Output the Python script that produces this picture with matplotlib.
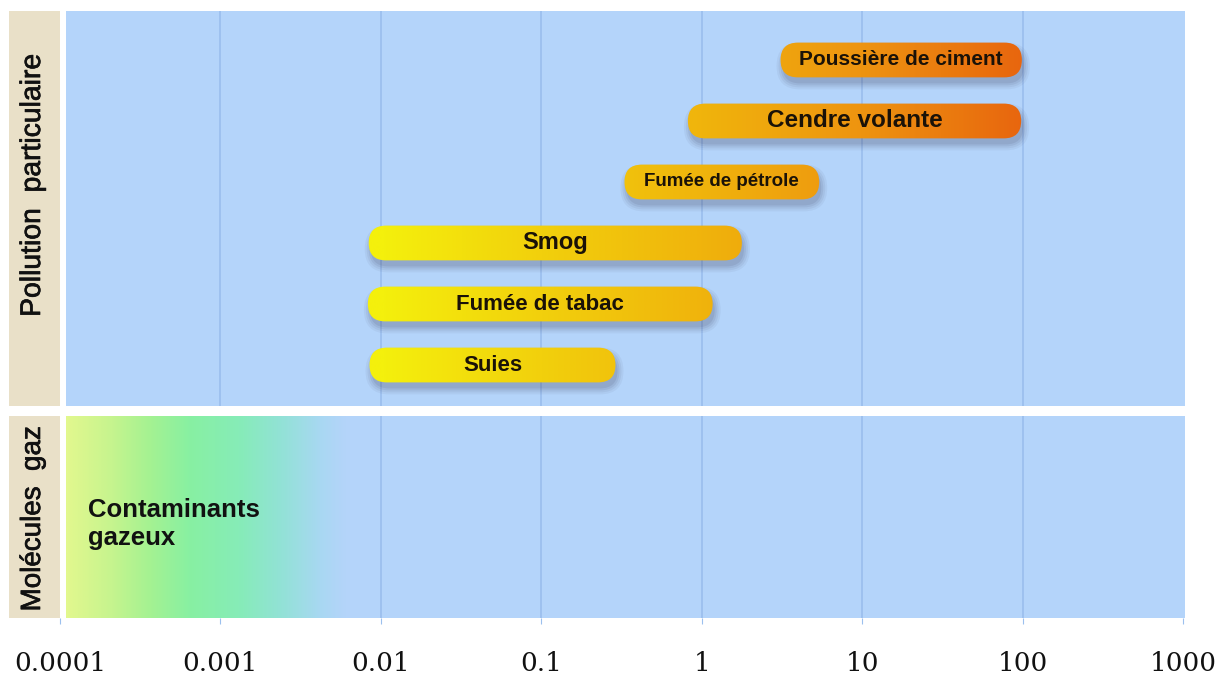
import matplotlib
matplotlib.use("Agg")
import matplotlib.pyplot as plt
import numpy as np
from matplotlib.patches import FancyBboxPatch, Rectangle
from matplotlib.colors import LinearSegmentedColormap
from matplotlib.transforms import IdentityTransform
import matplotlib.patheffects as pe

# ---------------- data ----------------
particles = ["Suies", "Fumée de tabac", "Smog", "Fumée de pétrole",
             "Cendre volante", "Poussière de ciment"]
size_min = [0.0085, 0.0083, 0.0084, 0.33, 0.82, 3.1]
size_max = [0.29, 1.17, 1.78, 5.4, 98.0, 99.0]
label_sizes = [16, 16, 17, 13.5, 17.5, 15]
gas_label = "Contaminants\ngazeux"
gas_range = (1e-4, 0.006)
tick_values = [1e-4, 1e-3, 1e-2, 1e-1, 1, 10, 100, 1000]
tick_labels = ["0.0001", "0.001", "0.01", "0.1", "1", "10", "100", "1000"]
panel_titles = ["Pollution  particulaire", "Molécules  gaz"]

sans = ["Liberation Sans", "DejaVu Sans"]

W, H = 1218, 682
fig = plt.figure(figsize=(W / 100, H / 100), dpi=100)

def fr(x0, y0, x1, y1):
    return [x0 / W, 1 - y1 / H, (x1 - x0) / W, (y1 - y0) / H]

BLUE = "#b4d4fa"
GRID = "#9cc0ee"
BEIGE = "#e9e0c8"

# beige side panels
fig.patches.append(Rectangle((9 / W, 1 - 406 / H), 51 / W, 395 / H, transform=fig.transFigure,
                             facecolor=BEIGE, edgecolor="none"))
fig.patches.append(Rectangle((9 / W, 1 - 618 / H), 51 / W, 202 / H, transform=fig.transFigure,
                             facecolor=BEIGE, edgecolor="none"))
thick = [pe.withStroke(linewidth=0.5, foreground="#111111")]
fig.text(33 / W, 1 - 185 / H, panel_titles[0], rotation=90, ha="center", va="center",
         fontsize=20.4, family=sans, color="#111111", path_effects=thick)
fig.text(33 / W, 1 - 519 / H, panel_titles[1], rotation=90, ha="center", va="center",
         fontsize=20, family=sans, color="#111111", path_effects=thick)

ax1 = fig.add_axes(fr(60, 11, 1183, 406))
ax2 = fig.add_axes(fr(60, 416, 1183, 618), sharex=ax1)

for ax in (ax1, ax2):
    ax.set_xscale("log")
    ax.set_xlim(1e-4, 1e3)
    ax.set_facecolor("none")
    for s in ax.spines.values():
        s.set_visible(False)
    ax.add_patch(Rectangle((6 / 1123, 0), 1 - 6 / 1123 + 2 / 1123, 1, transform=ax.transAxes,
                           facecolor=BLUE, edgecolor="none", zorder=0, clip_on=False))
    for v in tick_values[1:-1]:
        ax.axvline(v, color=GRID, lw=1.3, zorder=1)
    ax.set_yticks([])
    ax.minorticks_off()

ax1.tick_params(axis="x", which="both", bottom=False, labelbottom=False)
ax2.set_xticks(tick_values)
ax2.set_xticklabels(tick_labels)
ax2.tick_params(axis="x", which="major", length=4, color=GRID, pad=20,
                labelsize=19, labelcolor="#111111")
for t in ax2.get_xticklabels():
    t.set_family(["DejaVu Serif"])
ax2.tick_params(axis="x", which="minor", bottom=False)

# rows in top panel
ax1.set_ylim(-0.672, 5.803)
ax2.set_ylim(0, 1)

# colour scale along log10(size)
bar_cmap = LinearSegmentedColormap.from_list(
    "bars", [(0.0, "#f4f00c"), (0.25, "#f2d00c"), (0.5, "#f0b40c"),
             (0.75, "#ee9410"), (1.0, "#e8660e")])
lo, hi = -2.0, 2.0

fig.canvas.draw()
trans = ax1.transData

cols = np.linspace(0, 1, 800)
lx = np.log10(1e-4) + cols * (np.log10(1e3) - np.log10(1e-4))
vals = np.clip((lx - lo) / (hi - lo), 0, 1)
grad = vals[np.newaxis, :]

bar_h = 0.57
for i, (name, a, b, fs) in enumerate(zip(particles, size_min, size_max, label_sizes)):
    (x0, y0) = trans.transform((a, i - bar_h / 2))
    (x1, y1) = trans.transform((b, i + bar_h / 2))
    w, h = x1 - x0, y1 - y0
    r = h / 2
    # soft shadow
    for k, al in enumerate([0.06, 0.07, 0.09, 0.11]):
        grow = (3 - k) * 2.0
        sh = FancyBboxPatch((x0 + 2 - grow, y0 - 6 - grow), w + 2 * grow, h + 2 * grow,
                            boxstyle=f"round,pad=0,rounding_size={r + grow}",
                            transform=IdentityTransform(), facecolor="#404060",
                            edgecolor="none", alpha=al, zorder=2)
        ax1.add_artist(sh)
    clip = FancyBboxPatch((x0, y0), w, h, boxstyle=f"round,pad=0,rounding_size={r}",
                          transform=IdentityTransform(), facecolor="none",
                          edgecolor="none", zorder=3)
    ax1.add_artist(clip)
    im = ax1.imshow(grad, extent=(0, 1, 0, 1), transform=ax1.transAxes, aspect="auto",
                    cmap=bar_cmap, vmin=0, vmax=1, zorder=3, interpolation="bilinear")
    im.set_clip_path(clip)
    xm = np.sqrt(a * b)
    ax1.text(xm, i, name, ha="center", va="center", fontsize=fs, fontweight="bold",
             family=sans, color="#1a1208", zorder=4)

# gas gradient (drawn only where it differs from the blue background)
gas_cmap = LinearSegmentedColormap.from_list(
    "gas", [(0.0, "#e2f88e"), (0.16, "#c6f48e"), (0.30, "#a4f292"), (0.44, "#88f0a2"),
            (0.62, "#86ecb8"), (0.77, "#92e2d6"), (0.91, "#a8d8f2"), (1.0, BLUE)])
g0, g1 = np.log10(gas_range[0] * 1.09), np.log10(gas_range[1])
gv = np.clip((lx - g0) / (g1 - g0), 0, 1)
rgba = gas_cmap(gv)
rgba[gv >= 1, 3] = 0.0
imv = ax2.imshow(rgba[np.newaxis, :, :], extent=(0, 1, 0, 1), transform=ax2.transAxes,
                 aspect="auto", zorder=1.5, interpolation="bilinear")
cr = Rectangle((6 / 1123, 0), 1 - 6 / 1123, 1, transform=ax2.transAxes,
               facecolor="none", edgecolor="none")
ax2.add_artist(cr)
imv.set_clip_path(cr)
ax2.set_xlim(1e-4, 1e3)
ax2.set_ylim(0, 1)
ax2.text(1.49e-4, 0.465, gas_label, ha="left", va="center", fontsize=18.5,
         fontweight="bold", family=sans, color="#111111", linespacing=1.2, zorder=4)

fig.savefig("out.png", dpi=100)
